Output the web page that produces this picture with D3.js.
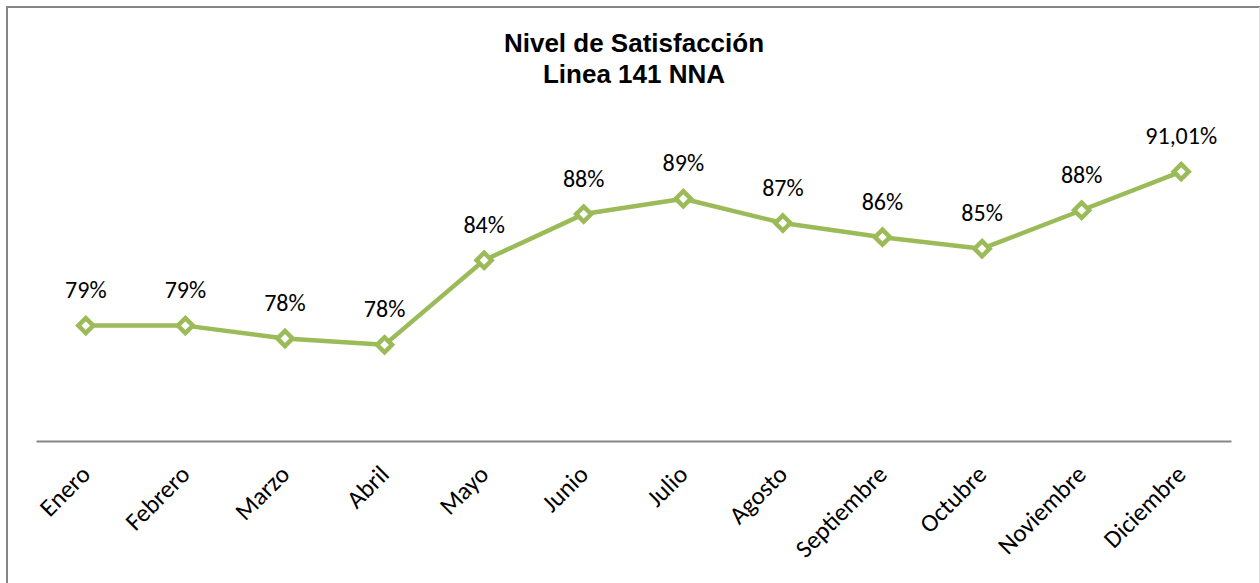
<!DOCTYPE html>
<html>
<head>
<meta charset="utf-8">
<script src="https://cdn.jsdelivr.net/npm/d3@7"></script>
<style>
  html, body { margin: 0; padding: 0; background: #fff; }
  svg { display: block; }
</style>
</head>
<body>
<svg id="chart" width="1260" height="583"></svg>
<script>
const categories = ["Enero", "Febrero", "Marzo", "Abril", "Mayo", "Junio", "Julio", "Agosto", "Septiembre", "Octubre", "Noviembre", "Diciembre"];
const values = [79.0, 79.0, 78.0, 77.5, 84.1, 87.7, 88.9, 87.0, 85.9, 85.0, 88.0, 91.01];
const dataLabels = ["79%", "79%", "78%", "78%", "84%", "88%", "89%", "87%", "86%", "85%", "88%", "91,01%"];
const titleLines = ["Nivel de Satisfacción", "Linea 141 NNA"];
const yDomain = [70, 100];

const svg = d3.select("#chart");
const green = "#9BBB59";
const labelFont = "Carlito, Lato, 'Open Sans', sans-serif";

// outer border
svg.append("path")
  .attr("d", "M7,590 L7,7 L1262,7")
  .attr("fill", "none").attr("stroke", "#868686").attr("stroke-width", 2);
svg.append("line")
  .attr("x1", 1259.5).attr("x2", 1259.5).attr("y1", 7).attr("y2", 583)
  .attr("stroke", "#e2e2e2").attr("stroke-width", 1);

// title
svg.append("text")
  .attr("x", 634).attr("text-anchor", "middle")
  .attr("font-family", "Arial, 'Liberation Sans', sans-serif")
  .attr("font-weight", "bold").attr("font-size", 26).attr("fill", "#000")
  .selectAll("tspan").data(titleLines).join("tspan")
  .attr("x", 634).attr("y", (d, i) => 51.7 + i * 31.7)
  .text(d => d);

const x = d3.scaleBand().domain(categories).range([36, 1231]).padding(0);
const y = d3.scaleLinear().domain(yDomain).range([441, 56.4]);
const cx = d => x(d) + x.bandwidth() / 2;

// category axis
const axis = d3.axisBottom(x).tickSize(0).tickPadding(0);
const gAxis = svg.append("g").attr("transform", `translate(0,${y(yDomain[0])})`).call(axis);
gAxis.select(".domain").attr("stroke", "#868686").attr("stroke-width", 2);
gAxis.selectAll(".tick text")
  .attr("font-family", labelFont).attr("font-size", 25).attr("fill", "#000")
  .attr("text-anchor", "end")
  .attr("dy", null).attr("y", null)
  .attr("transform", "translate(6,35) rotate(-45)");

// line
const line = d3.line().x((d, i) => cx(categories[i])).y(d => y(d));
svg.append("path").datum(values)
  .attr("d", line).attr("fill", "none")
  .attr("stroke", green).attr("stroke-width", 4.5)
  .attr("stroke-linejoin", "round").attr("stroke-linecap", "round");

// markers
const diamond = d3.symbol().type(d3.symbolDiamond2).size(2 * 8.5 * 8.5);
svg.append("g").selectAll("path").data(values).join("path")
  .attr("transform", (d, i) => `translate(${cx(categories[i])},${y(d)})`)
  .attr("d", diamond)
  .attr("fill", "#fff").attr("stroke", green).attr("stroke-width", 4.5);

// data labels
svg.append("g").selectAll("text").data(values).join("text")
  .attr("x", (d, i) => cx(categories[i]))
  .attr("y", d => y(d) - 27.5)
  .attr("text-anchor", "middle")
  .attr("font-family", labelFont).attr("font-size", 24).attr("fill", "#000")
  .text((d, i) => dataLabels[i]);
</script>
</body>
</html>
